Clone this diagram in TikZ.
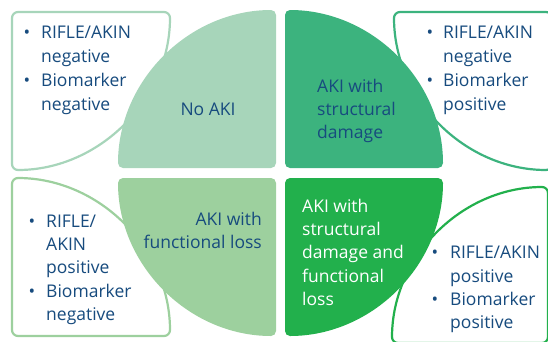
\documentclass[tikz,border=0pt]{standalone}
\usepackage{fontspec}
\setmainfont{Open Sans}
\definecolor{cTL}{HTML}{A7D5BA}
\definecolor{cTR}{HTML}{3CB37E}
\definecolor{cBL}{HTML}{9DD09E}
\definecolor{cBR}{HTML}{22B04C}
\definecolor{txtblue}{HTML}{174B7E}
\begin{document}
\begin{tikzpicture}[x=1pt,y=-1pt,
  txt/.style={anchor=base west, inner sep=0pt, text=txtblue, font=\fontsize{17.5}{20}\selectfont},
  txtr/.style={txt, anchor=base east},
  txtc/.style={txt, anchor=base},
  wtxt/.style={txt, text=white},
  bul/.style={txtc},
  boxline/.style={line width=2.2pt, fill=white, rounded corners=6pt},
  quarter/.style={rounded corners=5pt}]
\useasboundingbox (0,0) rectangle (548,341);
% white outlined boxes (quarter discs)
\draw[boxline, draw=cTL] (12,12) -- (170,12) arc[start angle=0, end angle=90, radius=158] -- cycle;
\draw[boxline, draw=cTR] (552,12) -- (394,12) arc[start angle=180, end angle=90, radius=158] -- cycle;
\draw[boxline, draw=cBL] (12,336) -- (12,178) arc[start angle=270, end angle=360, radius=158] -- cycle;
\draw[boxline, draw=cBR] (548,343) -- (392,343) arc[start angle=180, end angle=270, radius=156] -- cycle;
% green quarters
\fill[quarter, cTL] (276,168) -- (118,168) arc[start angle=180, end angle=270, radius=158] -- cycle;
\fill[quarter, cTR] (285,168) -- (285,10) arc[start angle=270, end angle=360, radius=158] -- cycle;
\fill[quarter, cBL] (276,178) -- (118,178) arc[start angle=180, end angle=90, radius=158] -- cycle;
\fill[quarter, cBR] (285,178) -- (443,178) arc[start angle=0, end angle=90, radius=158] -- cycle;
% top-left box text
\node[bul] (tlb1) at (27,38) {•};
\node[txt] (tl1) at (41,38) {RIFLE/AKIN};
\node[txt] (tl2) at (41,62) {negative};
\node[bul] (tlb2) at (27,86) {•};
\node[txt] (tl3) at (41,86) {Biomarker};
\node[txt] (tl4) at (41,110) {negative};
% no AKI
\node[txtc] (noaki) at (208,115) {No AKI};
% top-right quarter text
\node[txt] (tr1) at (317,92) {AKI with};
\node[txt] (tr2) at (317,115) {structural};
\node[txt] (tr3) at (317,138) {damage};
% top-right box text
\node[bul] (trb1) at (430,38) {•};
\node[txt] (trt1) at (443,38) {RIFLE/AKIN};
\node[txt] (trt2) at (443,62) {negative};
\node[bul] (trb2) at (430,86) {•};
\node[txt] (trt3) at (443,86) {Biomarker};
\node[txt] (trt4) at (443,110) {positive};
% bottom-left quarter text
\node[txtr] (bl1) at (262,225) {AKI with};
\node[txtr] (bl2) at (262,248) {functional loss};
% bottom-left box text
\node[bul] (blb1) at (32,227) {•};
\node[txt] (blt1) at (46,227) {RIFLE/};
\node[txt] (blt2) at (46,250) {AKIN};
\node[txt] (blt3) at (46,273) {positive};
\node[bul] (blb2) at (32,297) {•};
\node[txt] (blt4) at (46,297) {Biomarker};
\node[txt] (blt5) at (46,320) {negative};
% bottom-right quarter text
\node[wtxt] (br1) at (302,212) {AKI with};
\node[wtxt] (br2) at (302,235) {structural};
\node[wtxt] (br3) at (302,258) {damage and};
\node[wtxt] (br4) at (302,282) {functional};
\node[wtxt] (br5) at (302,305) {loss};
% bottom-right box text
\node[bul] (brb1) at (435,258) {•};
\node[txt] (brt1) at (450,258) {RIFLE/AKIN};
\node[txt] (brt2) at (450,282) {positive};
\node[bul] (brb2) at (435,305) {•};
\node[txt] (brt3) at (450,305) {Biomarker};
\node[txt] (brt4) at (450,328) {positive};
\end{tikzpicture}
\end{document}
